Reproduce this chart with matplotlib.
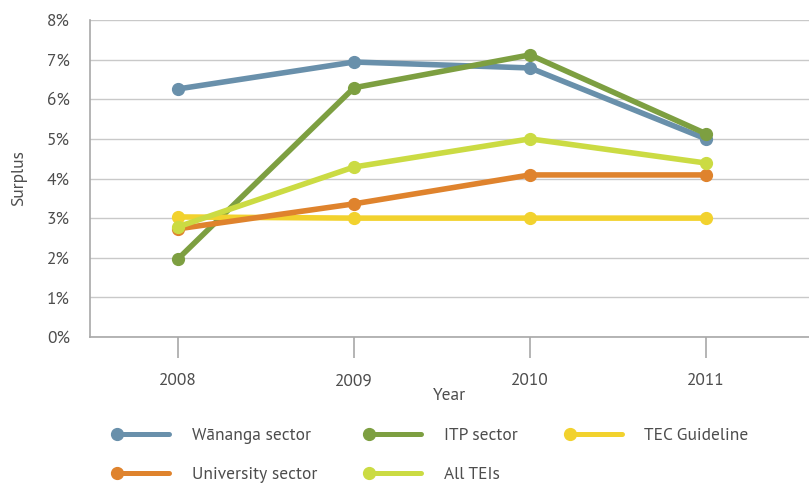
import matplotlib
matplotlib.use("Agg")
import matplotlib.pyplot as plt
from matplotlib.legend_handler import HandlerLine2D
from matplotlib.lines import Line2D
from matplotlib.ticker import FuncFormatter

plt.rcParams['font.family'] = ['PT Sans', 'DejaVu Sans']

years = ["2008", "2009", "2010", "2011"]
wananga = [6.26, 6.94, 6.79, 5.00]
itp = [1.97, 6.29, 7.12, 5.13]
tec = [3.03, 3.00, 3.00, 3.00]
university = [2.73, 3.36, 4.09, 4.09]
all_teis = [2.78, 4.29, 5.00, 4.39]

series = [
    ("Wānanga sector", wananga, "#6990ab"),
    ("ITP sector", itp, "#7d9f41"),
    ("TEC Guideline", tec, "#f2d22e"),
    ("University sector", university, "#df832d"),
    ("All TEIs", all_teis, "#cbdb43"),
]
draw_order = [3, 4, 2, 1, 0]
legend_order = [0, 3, 1, 4, 2]   # row-wise: W, ITP, TEC / Univ, All

text_color = "#4d4d4d"
grid_color = "#c9c9c9"
fs = 12.5

fig = plt.figure(figsize=(8.09, 4.84), dpi=100)
ax = fig.add_axes([90/809, 1-337/484, 1-90/809, (337-20)/484])

x = list(range(len(years)))
handles = {}
for i in draw_order:
    name, vals, col = series[i]
    ln, = ax.plot(x, vals, color=col, lw=4.0, marker='o', markersize=8.5,
                  solid_capstyle='round', label=name, zorder=3+i*0.1)
    handles[i] = ln

ax.set_ylim(0, 8)
ax.set_xlim(-0.5, 3.585)
ax.set_yticks(range(0, 9))
ax.yaxis.set_major_formatter(FuncFormatter(lambda v, p: f"{int(v)}%"))
ax.set_xticks(x)
ax.set_xticklabels(years)
ax.grid(axis='y', color=grid_color, lw=1)
ax.set_axisbelow(True)
for s in ['top', 'right']:
    ax.spines[s].set_visible(False)
for s in ['left', 'bottom']:
    ax.spines[s].set_color("#a8a8a8")
    ax.spines[s].set_linewidth(1.2)
ax.tick_params(axis='y', length=0, pad=14.5, labelsize=fs, labelcolor=text_color)
ax.tick_params(axis='x', length=15, width=1.2, color="#a8a8a8", direction='out',
               pad=11, labelsize=fs, labelcolor=text_color)
ax.set_xlabel("Year", fontsize=fs, color=text_color, labelpad=-1)
ax.set_ylabel("Surplus", fontsize=fs, color=text_color, labelpad=14)


class LeftMarkerHandler(HandlerLine2D):
    def create_artists(self, *args, **kwargs):
        arts = super().create_artists(*args, **kwargs)
        for a in arts:
            a.set_markevery([0])
            a.set_linewidth(3.6)
        return arts


leg_handles = [handles[i] for i in legend_order]
leg_labels = [series[i][0] for i in legend_order]
leg = fig.legend(leg_handles, leg_labels, ncol=3, loc='upper left',
                 bbox_to_anchor=(117/809, 1-428/484), frameon=False,
                 borderpad=0, borderaxespad=0, fontsize=fs,
                 handlelength=3.0, handletextpad=1.3, columnspacing=3.0,
                 labelspacing=1.3, numpoints=1,
                 handler_map={Line2D: LeftMarkerHandler()})
for t in leg.get_texts():
    t.set_color(text_color)

fig.savefig("out.png", dpi=100)
